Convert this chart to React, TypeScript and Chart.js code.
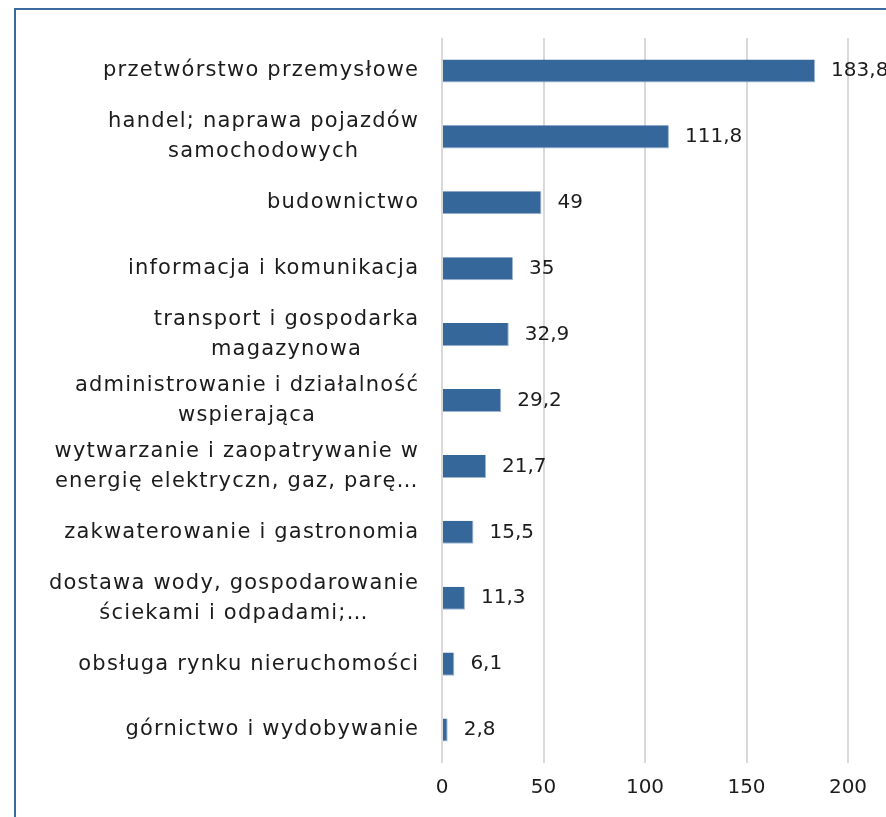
import React, { useEffect, useRef } from "react";
import { Chart, registerables } from "chart.js";

Chart.register(...registerables);

const categories: (string | string[])[] = [
  "przetwórstwo przemysłowe",
  ["handel; naprawa pojazdów", "samochodowych"],
  "budownictwo",
  "informacja i komunikacja",
  ["transport i gospodarka", "magazynowa"],
  ["administrowanie i działalność", "wspierająca"],
  ["wytwarzanie i zaopatrywanie w", "energię elektryczn, gaz, parę…"],
  "zakwaterowanie i gastronomia",
  ["dostawa wody, gospodarowanie", "ściekami i odpadami;…"],
  "obsługa rynku nieruchomości",
  "górnictwo i wydobywanie",
];

const values: number[] = [183.8, 111.8, 49, 35, 32.9, 29.2, 21.7, 15.5, 11.3, 6.1, 2.8];

const xTicks: number[] = [0, 50, 100, 150, 200];

const FONT = "'DejaVu Sans', sans-serif";
const TEXT = "#1c1c1c";
const BAR = "#35679A";
const SPACING = 1.2;

const fmt = (v: number) => String(v).replace(".", ",");

const labelPlugin = {
  id: "customLabels",
  afterDatasetsDraw(chart: any) {
    const ctx = chart.ctx;
    const yScale = chart.scales.y;
    const meta = chart.getDatasetMeta(0);
    const area = chart.chartArea;
    ctx.save();
    ctx.fillStyle = TEXT;
    ctx.textBaseline = "middle";
    // category labels
    ctx.font = `21px ${FONT}`;
    (ctx as any).letterSpacing = `${SPACING}px`;
    categories.forEach((c, i) => {
      const lines = Array.isArray(c) ? c : [c];
      const yc = yScale.getPixelForValue(i);
      const widths = lines.map((l) => ctx.measureText(l).width - SPACING);
      const maxW = Math.max(...widths);
      const right = area.left - 24;
      const lh = 30;
      const y0 = yc - ((lines.length - 1) * lh) / 2;
      ctx.textAlign = "left";
      lines.forEach((l, k) => {
        ctx.fillText(l, right - maxW / 2 - widths[k] / 2, y0 + k * lh);
      });
    });
    // value labels
    ctx.font = `20px ${FONT}`;
    (ctx as any).letterSpacing = "0px";
    ctx.textAlign = "left";
    meta.data.forEach((bar: any, i: number) => {
      ctx.fillText(fmt(values[i]), bar.x + 16, bar.y);
    });
    ctx.restore();
  },
};

export default function App() {
  const ref = useRef<HTMLCanvasElement | null>(null);
  useEffect(() => {
    if (!ref.current) return;
    const chart = new Chart(ref.current, {
      type: "bar",
      data: {
        labels: categories as any,
        datasets: [
          {
            data: values,
            backgroundColor: BAR,
            borderColor: "#9fb6d2",
            borderWidth: { top: 0, left: 0, right: 1, bottom: 1 } as any,
            borderSkipped: false,
            categoryPercentage: 1,
            barPercentage: 0.35,
          },
        ],
      },
      plugins: [labelPlugin],
      options: {
        indexAxis: "y",
        responsive: false,
        animation: false,
        devicePixelRatio: 1,
        layout: { padding: { top: 28, right: 118, bottom: 4, left: 0 } },
        plugins: { legend: { display: false }, tooltip: { enabled: false } },
        scales: {
          x: {
            min: 0,
            max: 200,
            afterBuildTicks: (s: any) => {
              s.ticks = xTicks.map((v) => ({ value: v }));
            },
            grid: { color: "#d9d9d9", lineWidth: 2, drawTicks: false },
            border: { display: false },
            ticks: {
              font: { family: FONT, size: 20 },
              color: TEXT,
              padding: 13,
            },
          },
          y: {
            grid: { display: false },
            border: { display: false },
            ticks: { display: false },
            afterFit: (s: any) => {
              s.width = 426;
            },
          },
        },
      },
    });
    return () => chart.destroy();
  }, []);
  return (
    <div style={{ position: "fixed", left: 0, top: 0, width: 886, height: 817, overflow: "hidden", background: "#fff" }}>
      <div
        style={{
          position: "absolute",
          left: 14,
          top: 8,
          width: 1000,
          height: 900,
          border: "2px solid #3B6A9C",
          boxSizing: "border-box",
        }}
      >
        <canvas ref={ref} width={950} height={807} style={{ display: "block", width: 950, height: 807 }} />
      </div>
    </div>
  );
}
